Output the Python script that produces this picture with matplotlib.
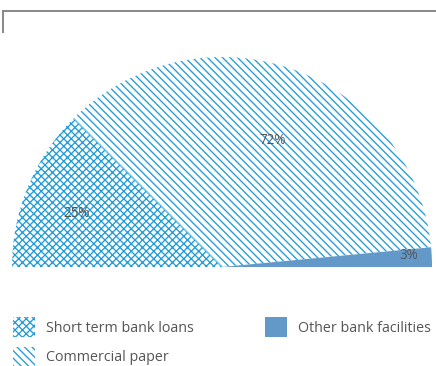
import matplotlib
matplotlib.use("Agg")
import matplotlib.pyplot as plt
import numpy as np

# data
labels = ["Short term bank loans", "Commercial paper", "Other bank facilities"]
shares = [25, 72, 3]
pct_text = ["25%", "72%", "3%"]

HATCH_BLUE = "#229bd8"
SOLID_BLUE = "#6399c8"
TXT = "#555555"

plt.rcParams["font.family"] = ["Open Sans", "DejaVu Sans"]
plt.rcParams["hatch.linewidth"] = 1.05

W, H, DPI = 437, 366, 90
PX = 72 / DPI  # points per pixel
fig = plt.figure(figsize=(W / DPI, H / DPI), dpi=DPI)
ax = fig.add_axes([0, 0, 1, 1])

cx, cy, r = 222, H - 267, 210
# half donut: hidden wedge of the same total fills the lower half
wedges, _ = ax.pie(shares + [sum(shares)], startangle=180, counterclock=False,
                   center=(cx, cy), radius=r)
wedges[-1].set_visible(False)
styles = [dict(facecolor="white", edgecolor=HATCH_BLUE, hatch="xxxx"),
          dict(facecolor="white", edgecolor=HATCH_BLUE, hatch="\\\\\\\\"),
          dict(facecolor=SOLID_BLUE, edgecolor=SOLID_BLUE, hatch=None)]
for w, st in zip(wedges, styles):
    w.set(linewidth=0, **st)

# percent labels near the mid angle of each slice
lab_r = [0.74, 0.65, 0.89]
lab_shift = [2.2, -1.8, 0.7]
for w, t, f, s in zip(wedges, pct_text, lab_r, lab_shift):
    a = np.deg2rad((w.theta1 + w.theta2) / 2 + s)
    ax.text(cx + f * r * np.cos(a), cy + f * r * np.sin(a), t,
            ha="center", va="center", fontsize=13.5 * PX, color=TXT)

ax.set_aspect("equal")
ax.set_xlim(0, W)
ax.set_ylim(0, H)
ax.axis("off")

# frame line at top
ax.plot([3, 3, W], [H - 33, H - 11, H - 11], color="#8a8a8a", lw=2 * PX,
        solid_joinstyle="miter", solid_capstyle="butt")

fs = 14.3 * PX
leg = ax.legend(wedges[:3], labels, ncol=2, loc="upper left",
                bbox_to_anchor=(13 / W, 1 - 317 / H), frameon=False,
                fontsize=fs, handlelength=22 * PX / fs, handleheight=1.8,
                handletextpad=0.75, columnspacing=5.0, labelspacing=0.65,
                borderaxespad=0, borderpad=0)
for t in leg.get_texts():
    t.set_color(TXT)

fig.savefig("out.png", dpi=DPI)
